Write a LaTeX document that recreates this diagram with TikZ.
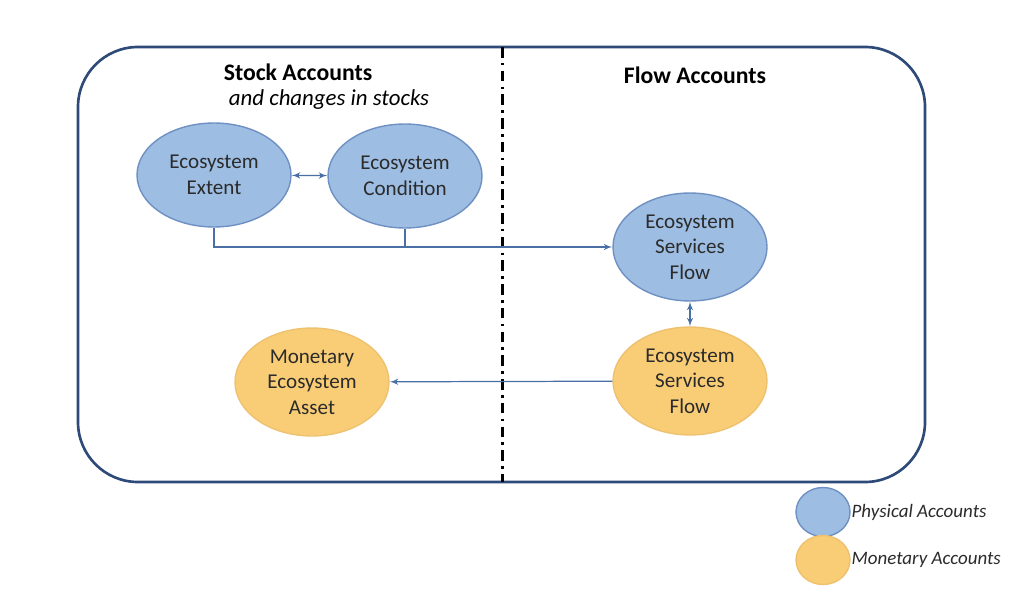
\documentclass[tikz,border=0pt]{standalone}
\usepackage{fontspec}
\setmainfont{Carlito}
\usetikzlibrary{shapes, arrows, positioning}

\definecolor{physfill}{HTML}{9DBDE3}
\definecolor{physline}{HTML}{6F90C2}
\definecolor{monfill}{HTML}{F9CD76}
\definecolor{monline}{HTML}{EEC170}
\definecolor{framecol}{HTML}{2E4A78}
\definecolor{linkcol}{HTML}{4A6FA5}
\definecolor{txtcol}{HTML}{2B2B2B}

\begin{document}
\begin{tikzpicture}[x=0.02cm, y=-0.02cm, >=latex', font=\fontsize{12}{14.5}\selectfont, text=txtcol]
        \tikzstyle{phys} = [ellipse, draw=physline, fill=physfill, thick, align=center, minimum width=3.08cm, minimum height=2.08cm]
        \tikzstyle{mon} = [ellipse, draw=monline, fill=monfill, thick, align=center, minimum width=3.08cm, minimum height=2.08cm]
        \tikzstyle{head} = [font=\bfseries\fontsize{13.5}{16}\selectfont, text=black]
        \tikzstyle{link} = [draw=linkcol, line width=0.7pt]
        \tikzstyle{key} = [ellipse, thick, minimum width=1.08cm, minimum height=0.98cm]
        \tikzstyle{keytext} = [font=\itshape\fontsize{10.8}{13}\selectfont]

        \useasboundingbox (0,0) rectangle (1033,594);

        % frame and divider
        \draw [framecol, line width=1.5pt, rounded corners=1.2cm] (78,47) rectangle (925,482);
        \coordinate (divtop) at (502,47);
        \coordinate (divbot) at (502,482);
        \draw [black, line width=1.7pt, dash pattern=on 6pt off 3pt on 1.5pt off 3pt] (divtop) -- (divbot);

        % headings
        \node [head] (stockhead) at (298,72) {Stock Accounts};
        \node [font=\itshape\fontsize{13}{15}\selectfont, text=black] (stocksub) at (329,100) {and changes in stocks};
        \node [head] (flowhead) at (695,75) {Flow Accounts};

        % accounts
        \node [phys] (extent) at (214,175) {Ecosystem\\Extent};
        \node [phys] (condition) at (405,176) {Ecosystem\\Condition};
        \node [phys] (flowphys) at (690,247) {Ecosystem\\Services\\Flow};
        \node [mon] (flowmon) at (690,381) {Ecosystem\\Services\\Flow};
        \node [mon] (asset) at (312,382) {Monetary\\Ecosystem\\Asset};

        \draw [link, <->] (extent) -- (condition);
        \draw [link, ->] (extent.south) |- (flowphys.west);
        \draw [link] (condition.south) -- (condition.south |- flowphys.west);
        \draw [link, <->] (flowphys) -- (flowmon);
        \draw [link, ->] (flowmon) -- (asset);

        % legend
        \node [key, draw=physline, fill=physfill] (keyphys) at (823,512) {};
        \node [key, draw=monline, fill=monfill] (keymon) at (823,560) {};
        \node [keytext, right=-3pt of keyphys] (physlabel) {Physical Accounts};
        \node [keytext, right=-3pt of keymon] (monlabel) {Monetary Accounts};
\end{tikzpicture}
\end{document}
